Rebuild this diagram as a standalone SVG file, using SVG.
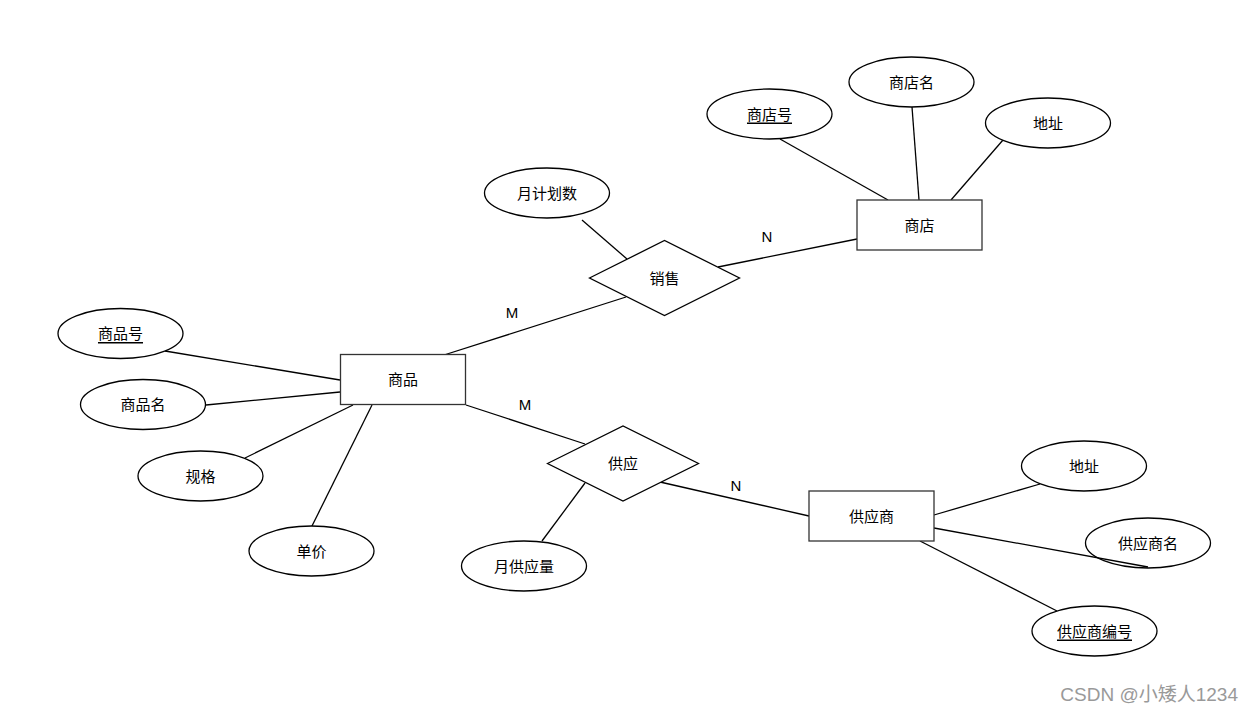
<svg xmlns="http://www.w3.org/2000/svg" width="1254" height="714" viewBox="0 0 1254 714">
<style>
.ent{fill:#fff;stroke:#333;stroke-width:1.3}
.att{fill:#fff;stroke:#000;stroke-width:1.3}
.rel{fill:#fff;stroke:#000;stroke-width:1.3}
.lk line{stroke:#000;stroke-width:1.3}
text{font-family:"Liberation Sans","Noto Sans CJK SC",sans-serif;font-size:15px;fill:#000;text-anchor:middle;dominant-baseline:central}
.key{text-decoration:underline}
.wm{font-size:19px;fill:#999;text-anchor:end}
</style>
<rect width="1254" height="714" fill="#fff"/>
<g id="connectors" class="lk">
<line x1="780" y1="139" x2="888" y2="200"/>
<line x1="912" y1="107" x2="919" y2="200"/>
<line x1="1003" y1="140" x2="951" y2="200"/>
<line x1="718" y1="267" x2="857" y2="239"/>
<line x1="582" y1="220" x2="627" y2="259"/>
<line x1="444" y1="355" x2="626" y2="297"/>
<line x1="165" y1="351" x2="340" y2="380"/>
<line x1="206" y1="405" x2="340" y2="392"/>
<line x1="245" y1="458" x2="353" y2="405"/>
<line x1="312" y1="526" x2="372" y2="405"/>
<line x1="466" y1="405" x2="585" y2="444"/>
<line x1="585" y1="483" x2="542" y2="541"/>
<line x1="660" y1="482" x2="809" y2="516"/>
<line x1="934" y1="515" x2="1040" y2="484"/>
<line x1="934" y1="528" x2="1148" y2="567"/>
<line x1="920" y1="541" x2="1057" y2="611"/>
</g>
<g id="labels">
<text x="767" y="236">N</text>
<text x="512" y="312">M</text>
<text x="525" y="404">M</text>
<text x="736" y="485">N</text>
</g>
<g id="shop"><rect class="ent" x="857" y="200" width="125" height="50"/><text x="919.5" y="225">商店</text></g>
<g id="shop_no"><ellipse class="att" cx="769.5" cy="114" rx="62.5" ry="25"/><text class="key" x="769.5" y="114">商店号</text></g>
<g id="shop_name"><ellipse class="att" cx="911.5" cy="82" rx="62.5" ry="25"/><text x="911.5" y="82">商店名</text></g>
<g id="shop_addr"><ellipse class="att" cx="1048" cy="123" rx="62.5" ry="25"/><text x="1048" y="123">地址</text></g>
<g id="sale"><polygon class="rel" points="589.5,278 664.5,240.5 739.5,278 664.5,315.5"/><text x="664.5" y="278">销售</text></g>
<g id="plan"><ellipse class="att" cx="547" cy="193" rx="62.5" ry="25"/><text x="547" y="193">月计划数</text></g>
<g id="goods"><rect class="ent" x="340.5" y="354.5" width="125" height="50"/><text x="403" y="379.5">商品</text></g>
<g id="goods_no"><ellipse class="att" cx="120.5" cy="333.5" rx="62.5" ry="25"/><text class="key" x="120.5" y="333.5">商品号</text></g>
<g id="goods_name"><ellipse class="att" cx="143" cy="404.5" rx="62.5" ry="25"/><text x="143" y="404.5">商品名</text></g>
<g id="spec"><ellipse class="att" cx="200.5" cy="476" rx="62.5" ry="25"/><text x="200.5" y="476">规格</text></g>
<g id="price"><ellipse class="att" cx="311.5" cy="551" rx="62.5" ry="25"/><text x="311.5" y="551">单价</text></g>
<g id="supply"><polygon class="rel" points="547.5,463.5 623,426 698.5,463.5 623,501"/><text x="623" y="463.5">供应</text></g>
<g id="monthly"><ellipse class="att" cx="524" cy="566" rx="62.5" ry="25"/><text x="524" y="566">月供应量</text></g>
<g id="supplier"><rect class="ent" x="809" y="491" width="125" height="50"/><text x="871.5" y="516">供应商</text></g>
<g id="sup_addr"><ellipse class="att" cx="1084" cy="466" rx="62.5" ry="25"/><text x="1084" y="466">地址</text></g>
<g id="sup_name"><ellipse class="att" cx="1148" cy="543" rx="62.5" ry="25" fill="none" style="fill:none"/><text x="1148" y="543">供应商名</text></g>
<g id="sup_no"><ellipse class="att" cx="1094.5" cy="631" rx="62.5" ry="25"/><text class="key" x="1094.5" y="631">供应商编号</text></g>
<text class="wm" x="1238" y="694">CSDN @小矮人1234</text>
</svg>
